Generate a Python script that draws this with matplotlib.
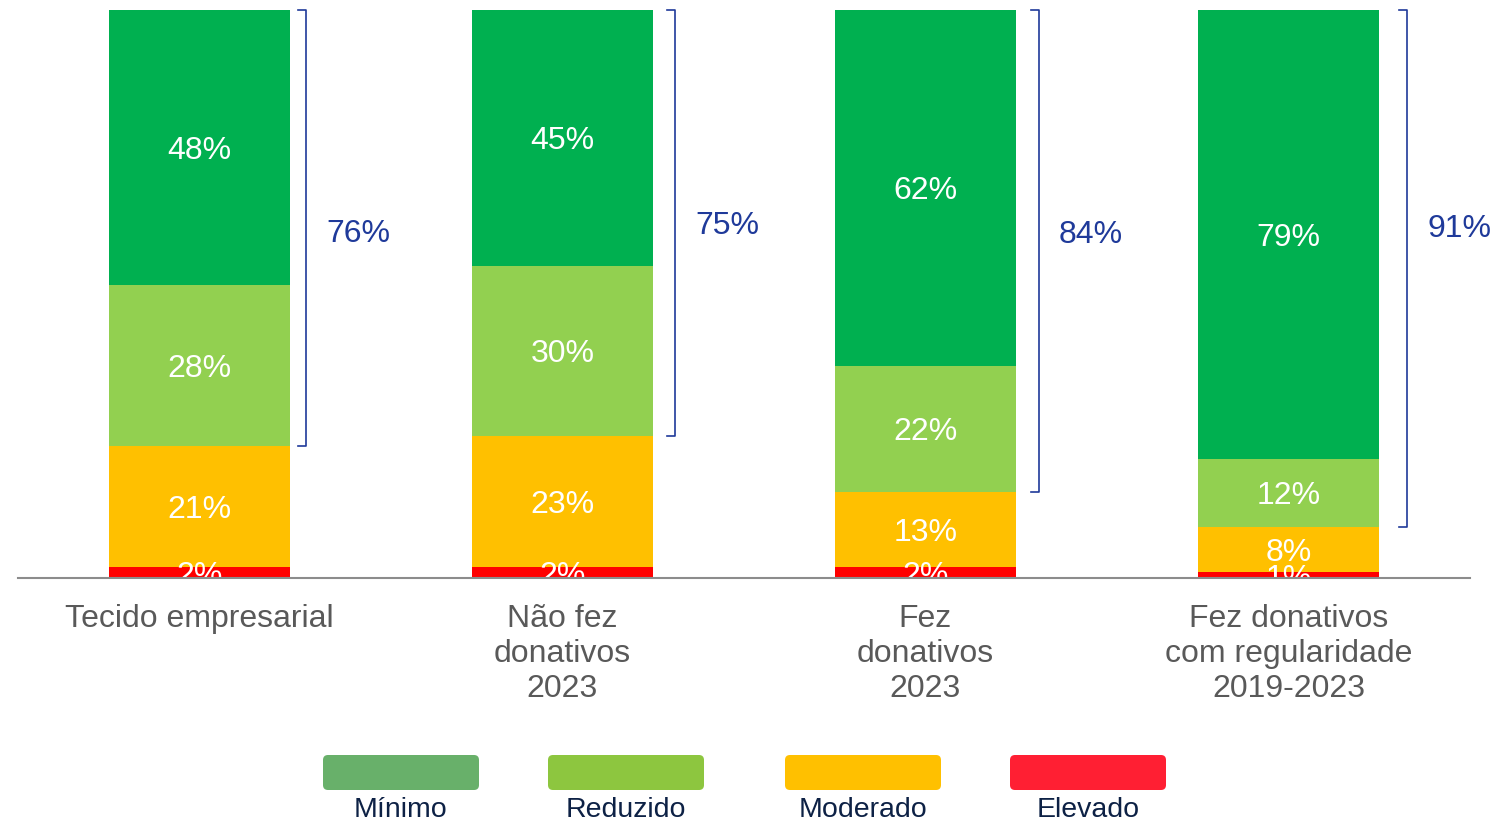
import numpy as np
import matplotlib.pyplot as plt
from matplotlib.patches import FancyBboxPatch

plt.rcParams['font.family'] = ['Liberation Sans', 'DejaVu Sans']

categories = ['Tecido empresarial', 'Não fez\ndonativos\n2023', 'Fez\ndonativos\n2023',
              'Fez donativos\ncom regularidade\n2019-2023']
levels = ['Elevado', 'Moderado', 'Reduzido', 'Mínimo']
elevado = [2, 2, 2, 1]
moderado = [21, 23, 13, 8]
reduzido = [28, 30, 22, 12]
minimo = [48, 45, 62, 79]

bar_colors = ['#ff0000', '#ffc000', '#92d050', '#00b050']
legend_names = ['Mínimo', 'Reduzido', 'Moderado', 'Elevado']
legend_colors = ['#68b06a', '#8dc63f', '#ffc000', '#ff1f33']
blue = '#1f3a9a'

# bracket placement (gap from bar edge, label height in axes fraction)
bracket_gap = [0.044, 0.061, 0.063, 0.077]
bracket_label_y = [0.606, 0.620, 0.604, 0.614]

fig = plt.figure(figsize=(15.1, 8.22), dpi=100)
ax = fig.add_axes([0.0119, 0.2968, 0.9616, 0.691])

series = np.array([elevado, moderado, reduzido, minimo], dtype=float)
totals = series.sum(axis=0)
shares = series / totals * 100
x = np.arange(len(categories))
w = 0.5
bottom = np.zeros(len(categories))
for k in range(len(levels)):
    ax.bar(x, shares[k], w, bottom=bottom, color=bar_colors[k], zorder=2)
    for i in range(len(x)):
        ax.text(x[i], bottom[i] + shares[k][i] / 2, '%d%%' % series[k][i],
                ha='center', va='center_baseline', color='white', fontsize=23, zorder=3)
    bottom += shares[k]

# brackets for Reduzido + Mínimo
for i in range(len(x)):
    lo = shares[0][i] + shares[1][i]
    hi = 100
    bx = x[i] + w / 2 + bracket_gap[i]
    ax.plot([bx - 0.022, bx, bx, bx - 0.022], [hi, hi, lo, lo], color=blue, lw=1.2,
            clip_on=False, zorder=3)
    ax.text(bx + 0.055, bracket_label_y[i] * 100, '%d%%' % (reduzido[i] + minimo[i]),
            ha='left', va='center', color=blue, fontsize=23)

ax.set_xlim(-0.5, 3.5)
ax.set_ylim(0, 100)
ax.set_xticks(x, categories)
ax.tick_params(axis='x', length=0, pad=19, labelsize=23, labelcolor='#595959')
ax.set_yticks([])
for s in ['top', 'left', 'right']:
    ax.spines[s].set_visible(False)
ax.spines['bottom'].set_color('#8c8c8c')
ax.spines['bottom'].set_linewidth(1.5)
ax.spines['bottom'].set_zorder(5)

# legend in pixel coordinates
lax = fig.add_axes([0, 0, 1, 1])
lax.set_xlim(0, 1510)
lax.set_ylim(822, 0)
lax.axis('off')
lx = [323, 548, 785, 1010]
for j in range(len(legend_names)):
    lax.add_patch(FancyBboxPatch((lx[j], 755), 156, 35, boxstyle='round,pad=0,rounding_size=5',
                                 color=legend_colors[j], lw=0))
    lax.text(lx[j] + 78, 810, legend_names[j], ha='center', va='center', color='#0d2145',
             fontsize=20.5)

plt.savefig('out.png', dpi=100)
